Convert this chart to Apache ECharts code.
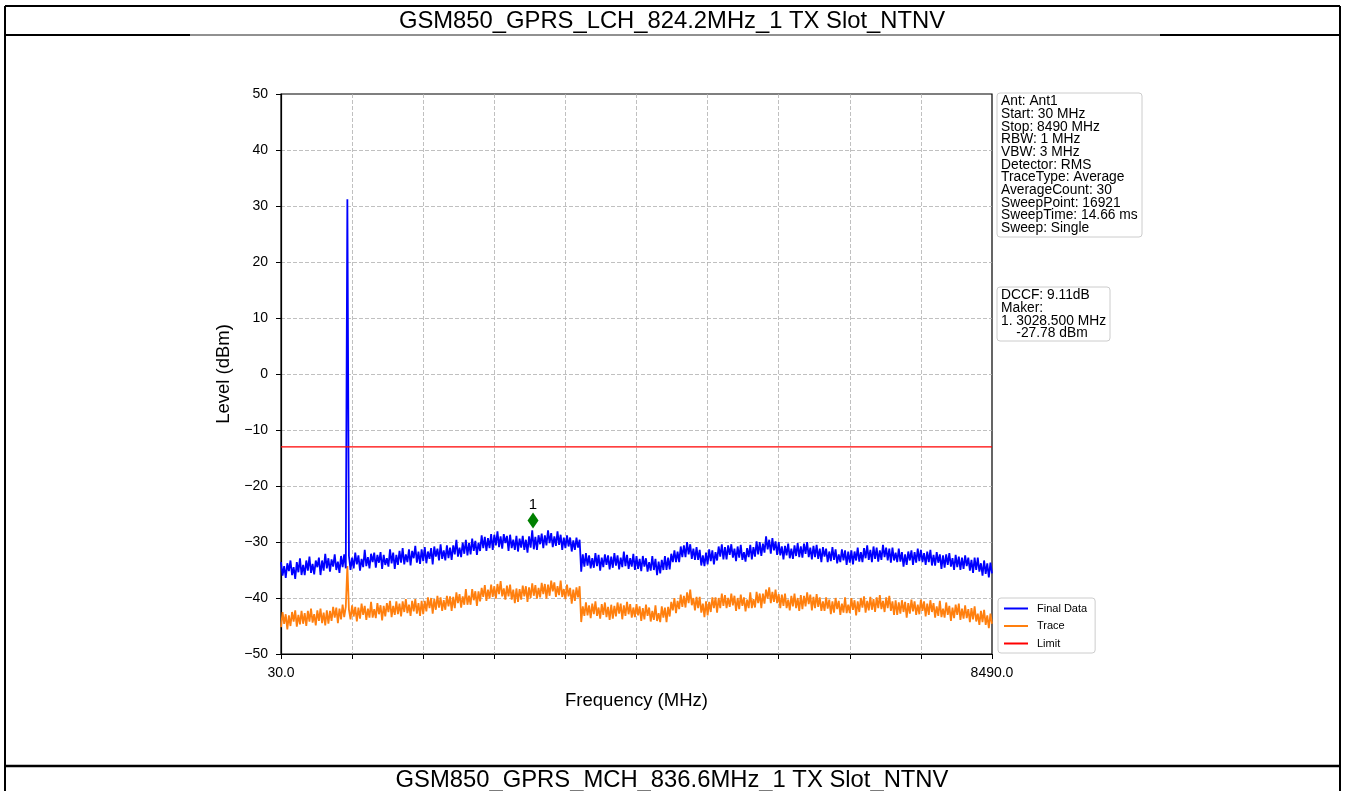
<!DOCTYPE html>
<html><head><meta charset="utf-8">
<script src="https://cdn.jsdelivr.net/npm/echarts@6/dist/echarts.min.js"></script>
<style>html,body{margin:0;padding:0;background:#fff}#c{width:1345px;height:791px}</style>
</head><body><div id="c"></div>
<script>
// ---- data ----
const titleTop = 'GSM850_GPRS_LCH_824.2MHz_1 TX Slot_NTNV';
const titleBottom = 'GSM850_GPRS_MCH_836.6MHz_1 TX Slot_NTNV';
const START_MHZ = 30, STOP_MHZ = 8490;
const xTickLabels = ['30.0', '8490.0'];
const limitLevel = -13;
const markerFreq = 3028.5, markerLevel = -27.78, markerName = '1';
const seriesNames = ['Final Data', 'Trace', 'Limit'];
const infoLines = ['Ant: Ant1','Start: 30 MHz','Stop: 8490 MHz','RBW: 1 MHz','VBW: 3 MHz','Detector: RMS','TraceType: Average','AverageCount: 30','SweepPoint: 16921','SweepTime: 14.66 ms','Sweep: Single'];
const markerInfoLines = ['DCCF: 9.11dB','Maker:','1. 3028.500 MHz','    -27.78 dBm'];

// Final Data (dBm), read across the sweep, evenly spaced from Start to Stop
const finalData = [
-33.6,-36.0,-34.3,-36.4,-33.8,-35.2,-33.3,-35.9,-34.5,-36.6,-33.6,-35.4,-32.9,-35.9,-34.1,
-35.9,-33.3,-35.1,-32.6,-35.5,-33.9,-35.8,-33.3,-34.5,-32.8,-35.9,-33.3,-35.1,-32.1,-34.7,
-32.9,-35.3,-33.1,-34.4,-32.2,-35.0,-33.5,-35.5,-32.5,-34.5,-32.2,-34.7,31.2,-32.5,-35.0,
-32.8,-34.7,-31.9,-34.0,-32.4,-35.1,-33.0,-34.5,-31.4,-34.3,-32.7,-34.7,-32.1,-33.6,-31.9,
-34.6,-32.3,-33.7,-31.8,-34.8,-32.3,-34.1,-32.9,-34.4,-31.3,-33.8,-31.9,-34.8,-32.3,-34.1,
-31.6,-33.7,-31.1,-34.0,-32.2,-33.6,-31.3,-34.2,-31.6,-32.9,-30.7,-33.7,-31.7,-33.9,-31.3,
-33.4,-30.9,-33.8,-31.7,-33.0,-31.1,-34.0,-30.8,-32.6,-31.2,-33.3,-30.4,-33.0,-31.5,-33.3,
-30.6,-32.9,-31.0,-33.2,-30.6,-32.2,-29.6,-32.6,-31.0,-32.7,-30.1,-32.1,-29.6,-32.4,-30.2,
-32.2,-29.4,-31.6,-29.8,-32.3,-30.1,-31.6,-28.8,-31.1,-29.1,-31.6,-29.3,-31.1,-28.6,-31.4,
-28.7,-30.6,-28.1,-30.9,-29.0,-31.2,-28.6,-30.2,-28.9,-31.6,-28.7,-31.1,-29.6,-31.4,-28.9,
-31.7,-29.4,-31.0,-28.9,-31.4,-29.6,-31.9,-29.0,-31.0,-27.9,-31.3,-29.1,-31.4,-28.8,-30.4,
-28.5,-31.1,-28.8,-30.6,-27.9,-30.2,-28.4,-30.9,-29.0,-30.7,-28.1,-30.5,-28.7,-31.4,-29.2,
-31.1,-28.8,-30.8,-29.2,-31.7,-29.7,-31.4,-29.2,-31.0,-29.6,-35.3,-32.2,-34.4,-32.0,-34.2,
-32.4,-34.7,-32.9,-34.6,-32.0,-34.3,-32.3,-35.1,-32.8,-34.5,-32.2,-34.1,-32.4,-34.9,-32.6,
-34.6,-32.0,-34.2,-32.4,-34.9,-32.8,-34.5,-31.7,-34.3,-32.3,-34.8,-32.9,-34.4,-32.1,-35.0,
-32.5,-34.8,-33.0,-35.2,-32.5,-34.4,-32.9,-35.3,-33.6,-35.1,-32.5,-35.0,-33.0,-35.9,-33.5,
-35.6,-33.2,-35.0,-32.5,-35.0,-32.8,-34.9,-32.1,-33.6,-31.5,-33.6,-31.7,-33.6,-30.8,-32.7,
-30.6,-32.7,-30.0,-32.2,-30.4,-33.0,-31.2,-33.2,-30.9,-33.2,-31.4,-34.2,-32.4,-34.3,-31.9,
-34.0,-31.3,-33.4,-31.5,-34.0,-31.8,-33.3,-30.8,-32.6,-30.4,-33.1,-30.9,-33.1,-30.6,-32.3,
-30.4,-32.8,-31.2,-33.4,-30.8,-32.8,-30.5,-33.2,-31.8,-33.5,-31.1,-32.7,-30.5,-33.1,-30.9,
-32.6,-29.9,-32.2,-30.0,-32.5,-30.3,-31.9,-29.0,-31.3,-29.6,-32.1,-29.3,-31.5,-29.9,-32.3,
-30.0,-32.4,-30.8,-33.1,-30.7,-32.4,-30.3,-32.9,-31.2,-33.0,-30.6,-32.5,-30.2,-32.7,-30.8,
-32.8,-30.3,-32.1,-30.0,-32.7,-31.0,-33.1,-30.7,-32.7,-30.5,-33.0,-31.2,-33.6,-30.9,-32.6,
-31.2,-33.6,-31.7,-33.4,-30.9,-33.2,-31.3,-33.8,-32.2,-33.6,-31.3,-33.3,-31.5,-34.1,-31.7,
-33.7,-31.5,-34.0,-31.7,-33.3,-31.0,-33.5,-31.8,-33.6,-31.1,-32.9,-30.6,-33.2,-31.4,-33.6,
-30.8,-33.0,-31.0,-33.5,-31.5,-33.2,-30.5,-32.7,-31.0,-33.3,-31.2,-33.7,-31.0,-33.3,-31.9,
-33.6,-31.2,-33.5,-31.8,-34.4,-32.2,-34.1,-31.7,-33.3,-31.5,-34.1,-31.8,-33.7,-31.2,-33.4,
-31.4,-33.6,-32.0,-34.1,-31.7,-33.6,-31.4,-34.2,-32.3,-34.2,-31.8,-33.7,-32.2,-34.8,-32.4,
-34.6,-32.2,-34.1,-32.0,-34.4,-32.9,-35.0,-32.3,-34.5,-32.6,-35.0,-32.8,-34.8,-32.4,-34.3,
-32.8,-35.1,-33.2,-35.5,-32.8,-35.0,-32.8,-35.3,-33.8,-36.0,-33.3,-35.7,-33.8,-36.3,-33.7,
-35.6
];

// Trace (dBm), same sweep grid
const traceData = [
-45.2,-42.5,-44.6,-42.9,-45.6,-43.1,-45.0,-42.5,-44.2,-42.2,-45.1,-43.0,-44.7,-42.3,-44.6,
-42.7,-45.0,-42.3,-44.2,-41.9,-44.4,-42.9,-44.9,-42.2,-44.1,-41.9,-44.5,-42.6,-44.9,-42.2,
-44.6,-42.3,-44.1,-41.6,-43.5,-41.7,-44.5,-41.9,-43.8,-41.2,-43.4,-41.6,-34.3,-42.1,-43.8,
-41.3,-43.3,-41.6,-44.2,-41.7,-43.7,-41.0,-43.0,-41.4,-43.9,-41.9,-43.5,-40.7,-43.5,-42.0,
-43.6,-40.9,-42.9,-41.3,-44.0,-41.4,-43.3,-40.9,-42.5,-40.5,-43.4,-41.4,-43.0,-40.6,-42.9,
-41.0,-43.3,-40.6,-42.5,-40.2,-42.7,-41.2,-43.2,-40.5,-42.4,-40.2,-42.8,-40.9,-43.2,-40.5,
-42.9,-40.5,-42.4,-39.9,-41.8,-40.0,-42.8,-40.2,-42.1,-39.6,-41.7,-39.9,-42.3,-40.4,-42.1,
-39.6,-41.5,-39.7,-42.3,-39.8,-41.8,-39.0,-40.9,-39.3,-41.7,-39.7,-41.2,-38.4,-41.2,-39.6,
-41.2,-38.4,-40.4,-38.8,-41.4,-38.8,-40.6,-38.2,-39.8,-37.7,-40.5,-38.5,-40.1,-37.6,-39.8,
-37.9,-40.1,-37.5,-39.3,-37.0,-39.7,-38.3,-40.3,-37.8,-39.7,-37.6,-40.3,-38.5,-40.9,-38.3,
-40.7,-38.4,-40.3,-37.8,-39.7,-37.9,-40.7,-38.1,-40.0,-37.4,-39.6,-37.7,-40.1,-38.2,-39.9,
-37.3,-39.3,-37.5,-40.1,-37.6,-39.6,-36.9,-38.8,-37.2,-39.8,-37.9,-39.5,-36.9,-39.8,-38.4,
-40.2,-37.6,-39.7,-38.2,-41.0,-38.5,-40.5,-38.1,-39.9,-37.9,-44.3,-41.5,-43.2,-40.8,-43.1,
-41.3,-43.6,-41.0,-42.9,-40.6,-43.2,-41.7,-43.7,-41.1,-43.0,-40.8,-43.4,-41.6,-43.9,-41.2,
-43.7,-41.4,-43.3,-40.8,-42.8,-41.0,-43.8,-41.3,-43.2,-40.7,-42.9,-41.1,-43.5,-41.7,-43.4,
-41.1,-43.1,-41.5,-44.1,-41.8,-43.8,-41.2,-43.2,-41.7,-44.2,-42.3,-43.9,-41.3,-44.1,-42.7,
-44.3,-41.5,-43.5,-41.7,-44.3,-41.6,-43.3,-40.7,-42.2,-40.0,-42.7,-40.5,-42.0,-39.4,-41.6,
-39.6,-41.7,-39.0,-40.9,-38.5,-41.3,-40.0,-42.2,-39.8,-41.8,-39.8,-42.6,-41.0,-43.4,-40.6,
-43.1,-40.7,-42.5,-39.9,-41.8,-39.9,-42.6,-40.0,-41.8,-39.2,-41.4,-39.5,-41.8,-40.0,-41.6,
-39.2,-41.3,-39.6,-42.3,-40.0,-42.0,-39.4,-41.4,-39.9,-42.4,-40.3,-41.8,-39.0,-41.8,-40.2,
-41.7,-38.9,-40.9,-39.2,-41.8,-39.2,-41.0,-38.5,-40.1,-38.1,-40.9,-38.9,-40.7,-38.5,-40.9,
-39.3,-41.8,-39.4,-41.4,-39.2,-41.8,-40.3,-42.2,-39.6,-41.5,-39.2,-41.8,-40.0,-42.3,-39.5,
-42.0,-39.6,-41.5,-39.0,-41.1,-39.4,-42.2,-39.8,-41.8,-39.3,-41.6,-39.9,-42.3,-40.6,-42.3,
-39.9,-41.9,-40.3,-42.9,-40.6,-42.6,-40.0,-42.0,-40.5,-43.0,-41.0,-42.6,-39.9,-42.7,-41.2,
-42.7,-40.0,-42.1,-40.4,-43.1,-40.6,-42.5,-40.0,-41.7,-39.7,-42.6,-40.5,-42.2,-39.8,-42.1,
-40.2,-42.5,-39.9,-41.8,-39.5,-42.0,-40.5,-42.5,-39.9,-41.8,-39.6,-42.3,-40.6,-43.0,-40.4,
-43.0,-40.8,-42.8,-40.4,-42.5,-40.7,-43.5,-40.9,-42.8,-40.3,-42.4,-40.6,-43.0,-41.2,-42.9,
-40.3,-42.3,-40.6,-43.3,-41.0,-43.0,-40.4,-42.5,-40.9,-43.5,-41.5,-43.2,-40.5,-43.4,-41.9,
-43.5,-40.8,-43.0,-41.4,-44.1,-41.7,-43.6,-41.2,-43.0,-41.0,-43.9,-41.9,-43.7,-41.3,-43.6,
-42.0,-44.3,-41.8,-43.8,-41.5,-44.2,-42.8,-44.8,-42.3,-44.3,-42.1,-44.8,-43.1,-45.4,-42.8,
-44.6
];

// ---- build ----
const FONT = '"Liberation Sans", Arial, Helvetica, sans-serif';
function sweep(levels) {
  const n = levels.length, step = (STOP_MHZ - START_MHZ) / (n - 1);
  return levels.map((v, i) => [START_MHZ + i * step, v]);
}
const minus = v => String(v).replace('-', '\u2212');
const chart = echarts.init(document.getElementById('c'), null, {renderer: 'canvas'});
const frame = {stroke: '#000', lineWidth: 2};
const grid = {color: '#b0b0b0', width: 0.8, type: [4, 2]};
const option = {
  animation: false,
  backgroundColor: '#fff',
  textStyle: {fontFamily: FONT},
  grid: {left: 281, top: 94, width: 711, height: 560, show: true, borderColor: '#000', borderWidth: 1.2, backgroundColor: 'transparent'},
  xAxis: {
    type: 'value', min: START_MHZ, max: STOP_MHZ, interval: (STOP_MHZ - START_MHZ) / 10,
    name: 'Frequency (MHz)', nameLocation: 'middle', nameGap: 37,
    nameTextStyle: {fontSize: 18.5, color: '#000', fontFamily: FONT},
    axisLine: {onZero: false, lineStyle: {color: '#000', width: 1.2}},
    axisTick: {show: true, length: 5, lineStyle: {color: '#000', width: 1}},
    axisLabel: {fontSize: 14, color: '#000', fontFamily: FONT, margin: 12, showMinLabel: true, showMaxLabel: true,
      formatter: v => Math.abs(v - START_MHZ) < 1e-6 ? xTickLabels[0] : (Math.abs(v - STOP_MHZ) < 1e-6 ? xTickLabels[1] : '')},
    splitLine: {show: true, showMinLine: false, showMaxLine: false, lineStyle: grid}
  },
  yAxis: {
    type: 'value', min: -50, max: 50, interval: 10,
    name: 'Level (dBm)', nameLocation: 'middle', nameGap: 45,
    nameTextStyle: {fontSize: 18.5, color: '#000', fontFamily: FONT},
    axisLine: {lineStyle: {color: '#000', width: 1.2}},
    axisTick: {show: true, length: 5, lineStyle: {color: '#000', width: 1}},
    axisLabel: {fontSize: 14, color: '#000', fontFamily: FONT, margin: 13, formatter: minus},
    splitLine: {show: true, showMinLine: false, showMaxLine: false, lineStyle: grid}
  },
  legend: {
    data: seriesNames.map(n => ({name: n, icon: 'rect'})), orient: 'vertical', left: 998, top: 598,
    itemWidth: 24, itemHeight: 2, itemGap: 6.5, padding: [5, 8, 4, 6],
    borderColor: '#cccccc', borderWidth: 1, borderRadius: 3, backgroundColor: '#fff',
    textStyle: {fontSize: 11, color: '#000', fontFamily: FONT, padding: [0, 0, 0, 4]}
  },
  series: [
    {type: 'line', name: seriesNames[0], data: sweep(finalData), symbol: 'none', z: 3,
      lineStyle: {color: '#0000ff', width: 1.8}, itemStyle: {color: '#0000ff'}},
    {type: 'line', name: seriesNames[1], data: sweep(traceData), symbol: 'none', z: 2,
      lineStyle: {color: '#ff7f0e', width: 1.8}, itemStyle: {color: '#ff7f0e'}},
    {type: 'line', name: seriesNames[2], data: [[START_MHZ, limitLevel], [STOP_MHZ, limitLevel]], symbol: 'none', z: 4,
      lineStyle: {color: '#ff0000', width: 1.2}, itemStyle: {color: '#ff0000'}},
    {type: 'scatter', name: 'marker', data: [[markerFreq, markerLevel]], symbol: 'diamond', symbolSize: [11, 16], symbolOffset: [0, -9], z: 5,
      itemStyle: {color: '#008000', opacity: 1},
      label: {show: true, formatter: markerName, position: 'top', distance: 0, fontSize: 15, color: '#000', fontFamily: FONT}}
  ],
  graphic: [
    {type: 'line', shape: {x1: 5, y1: 6, x2: 1340, y2: 6}, style: frame, silent: true},
    {type: 'line', shape: {x1: 5, y1: 6, x2: 5, y2: 791}, style: frame, silent: true},
    {type: 'line', shape: {x1: 1340, y1: 6, x2: 1340, y2: 791}, style: frame, silent: true},
    {type: 'line', shape: {x1: 5, y1: 35, x2: 190, y2: 35}, style: frame, silent: true},
    {type: 'line', shape: {x1: 1160, y1: 35, x2: 1340, y2: 35}, style: frame, silent: true},
    {type: 'line', shape: {x1: 190, y1: 35, x2: 1160, y2: 35}, style: {stroke: '#222', lineWidth: 1}, silent: true},
    {type: 'line', shape: {x1: 5, y1: 766, x2: 1340, y2: 766}, style: {stroke: '#000', lineWidth: 2.5}, silent: true},
    {type: 'text', x: 672, y: 21, style: {text: titleTop, font: '23.8px ' + FONT, fill: '#000', textAlign: 'center', textVerticalAlign: 'middle'}, silent: true},
    {type: 'text', x: 672, y: 780, style: {text: titleBottom, font: '23.8px ' + FONT, fill: '#000', textAlign: 'center', textVerticalAlign: 'middle'}, silent: true},
    {type: 'rect', shape: {x: 997, y: 93, width: 145, height: 144, r: 3}, style: {fill: '#fff', stroke: '#cccccc', lineWidth: 1}, silent: true},
    {type: 'text', x: 1001, y: 95, style: {text: infoLines.join('\n'), font: '13.8px ' + FONT, lineHeight: 12.7, fill: '#000', textAlign: 'left', textVerticalAlign: 'top'}, silent: true},
    {type: 'rect', shape: {x: 997, y: 287, width: 113, height: 54, r: 3}, style: {fill: '#fff', stroke: '#cccccc', lineWidth: 1}, silent: true},
    {type: 'text', x: 1001, y: 289, style: {text: markerInfoLines.join('\n'), font: '13.8px ' + FONT, lineHeight: 12.7, fill: '#000', textAlign: 'left', textVerticalAlign: 'top'}, silent: true}
  ]
};
chart.setOption(option);
</script>
</body></html>
